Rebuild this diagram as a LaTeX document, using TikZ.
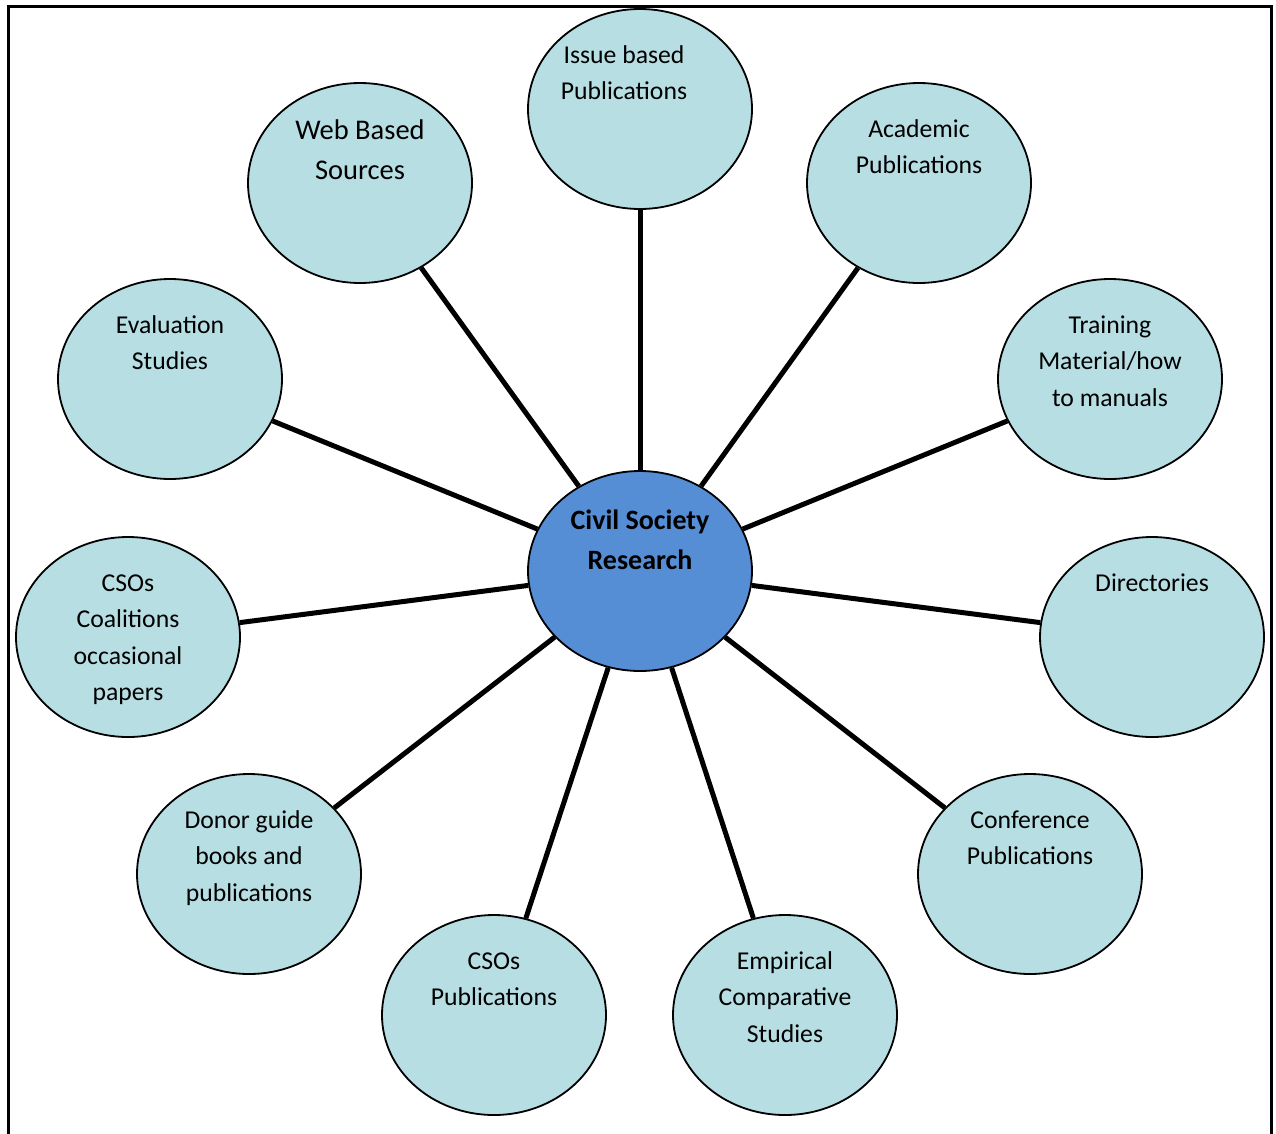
\documentclass[tikz,border=0pt]{standalone}
\usepackage{fontspec}
\setmainfont{Carlito}
\usetikzlibrary{shapes.geometric}
\definecolor{bubfill}{HTML}{B7DEE3}
\definecolor{hubfill}{HTML}{558ED5}
\begin{document}
\begin{tikzpicture}[x=1pt,y=-1pt,
  bub/.style={ellipse,draw,line width=1.8pt,fill=bubfill,minimum width=224pt,minimum height=200pt,inner sep=0pt},
  hub/.style={bub,fill=hubfill},
  txt/.style={align=center,anchor=base,inner sep=0pt,font=\fontsize{25.7}{36.5}\selectfont},
  bigtxt/.style={txt,font=\fontsize{28.5}{40}\selectfont},
  hubtxt/.style={txt,font=\fontsize{28}{40}\selectfont\bfseries},
  link/.style={line width=5pt}]
\useasboundingbox (0,0) rectangle (1276,1133);
\draw[line width=3pt] (8,1136) -- (8,6) -- (1271,6) -- (1271,1136);

\node[hub] (c) at (640,571) {};
\node[bub] (n1) at (640,109) {};
\node[bub] (n2) at (919,183) {};
\node[bub] (n3) at (1110,379) {};
\node[bub] (n4) at (1152,637) {};
\node[bub] (n5) at (1030,874) {};
\node[bub] (n6) at (785,1015) {};
\node[bub] (n7) at (494,1015) {};
\node[bub] (n8) at (249,874) {};
\node[bub] (n9) at (128,637) {};
\node[bub] (n10) at (170,379) {};
\node[bub] (n11) at (360,183) {};

\foreach \n in {n1,n2,n3,n4,n5,n6,n7,n8,n9,n10,n11}
  \draw[link] (c) -- (\n);

% anchor=base is the baseline of the last line
\node[hubtxt] (tc) at (640,569.5) {Civil Society\\Research};
\node[txt] (t1) at (624,99.5) {Issue based\\Publications};
\node[txt] (t2) at (919,173.5) {Academic\\Publications};
\node[txt] (t3) at (1110,406) {Training\\Material/how\\to manuals};
\node[txt] (t4) at (1152,591) {Directories};
\node[txt] (t5) at (1030,864.5) {Conference\\Publications};
\node[txt] (t6) at (785,1042) {Empirical\\Comparative\\Studies};
\node[txt] (t7) at (494,1005.5) {CSOs\\Publications};
\node[txt] (t8) at (249,901) {Donor guide\\books and\\publications};
\node[txt] (t9) at (128,700.5) {CSOs\\Coalitions\\occasional\\papers};
\node[txt] (t10) at (170,369.5) {Evaluation\\Studies};
\node[bigtxt] (t11) at (360,179.5) {Web Based\\Sources};
\end{tikzpicture}
\end{document}
